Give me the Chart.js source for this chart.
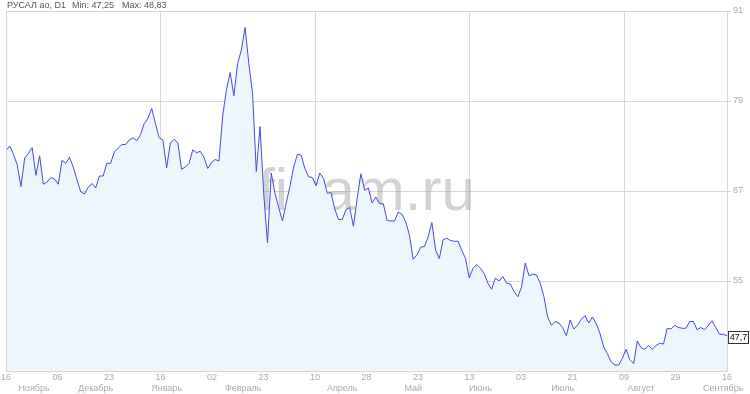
<!DOCTYPE html>
<html>
<head>
<meta charset="utf-8">
<script src="https://cdn.jsdelivr.net/npm/chart.js@4/dist/chart.umd.min.js"></script>
<style>
html,body{margin:0;padding:0;background:#fff;}
#wrap{width:750px;height:394px;position:relative;}
</style>
</head>
<body>
<div id="wrap"><canvas id="c" width="750" height="394"></canvas></div>
<script>
const titleParts = ['РУСАЛ ао, D1', 'Min: 47,25', 'Max: 48,83'];
const dayLabels = ['16','06','23','16','02','23','10','28','23','13','03','21','09','29','16'];
const monthLabels = ['Ноябрь','Декабрь','Январь','Февраль','Апрель','Май','Июнь','Июль','Август','Сентябрь'];
const monthAt = [7.5, 24, 43, 63.5, 90, 109, 127, 149, 170, 192];
const yTicks = [55, 67, 79, 91];
const prices = [
72.4, 73.0, 71.9, 70.5, 67.6, 71.4, 72.0, 72.8, 69.1, 71.7,
67.9, 68.2, 68.8, 68.6, 67.9, 71.1, 70.7, 71.5, 70.2, 68.5,
66.9, 66.6, 67.5, 68.0, 67.4, 69.0, 69.0, 70.7, 70.7, 72.2,
72.7, 73.2, 73.2, 73.8, 74.1, 73.7, 74.5, 76.0, 76.7, 78.0,
76.0, 74.1, 73.8, 70.1, 73.4, 73.9, 73.4, 69.9, 70.2, 70.7,
72.5, 72.1, 72.3, 71.5, 70.0, 70.8, 71.2, 71.0, 77.0, 80.5,
82.8, 79.7, 84.0, 85.8, 88.8, 84.0, 80.0, 69.6, 75.6, 66.5,
60.1, 69.4, 66.7, 64.8, 63.0, 65.4, 67.6, 70.2, 71.9, 71.8,
70.0, 68.9, 68.8, 67.7, 69.4, 68.7, 66.7, 66.8, 64.6, 63.2,
63.2, 64.5, 64.8, 62.3, 66.0, 69.3, 67.1, 67.4, 65.4,
66.2, 65.3, 65.3, 63.1, 63.0, 63.0, 64.2, 63.9, 62.9, 61.1,
57.9, 58.5, 59.5, 59.6, 60.9, 62.8, 59.1, 58.0, 60.5, 60.7,
60.4, 60.3, 60.3, 59.1, 58.0, 55.4, 56.7, 57.2, 56.7, 56.0,
54.7, 53.9, 55.4, 55.0, 55.6, 54.7, 54.6, 53.6, 52.9, 54.2,
57.4, 55.7, 55.9, 55.8, 54.7, 52.9, 50.2, 49.1,
49.6, 49.4, 48.8, 47.7, 49.8, 48.6, 49.1, 49.9, 50.4, 49.4,
50.2, 49.3, 48.0, 46.2, 45.3, 44.2, 43.8, 43.8, 44.7, 45.9,
44.5, 44.0, 47.0, 46.1, 45.9, 46.4, 45.9, 46.4, 46.7, 46.6,
48.7, 48.6, 49.1, 48.8, 48.7, 48.7, 49.6, 49.6, 48.5, 48.8,
48.5, 49.1, 49.7, 48.8, 47.9, 47.9, 47.7
];

const N = prices.length;
const lastIdx = N - 1;
const gridIdx = [3, 6, 9, 12];
const GRID = '#d6d6d6';
const FONT = 'Arial, "Liberation Sans", sans-serif';

const extras = {
  id: 'extras',
  beforeDatasetsDraw(chart) {
    const ctx = chart.ctx, a = chart.chartArea;
    ctx.save();
    ctx.font = '60px ' + FONT;
    ctx.fillStyle = 'rgba(150,150,150,0.42)';
    ctx.textAlign = 'center';
    ctx.textBaseline = 'alphabetic';
    ctx.fillText('finam.ru', (a.left + a.right) / 2, 210);
    ctx.restore();
  },
  afterDatasetsDraw(chart) {
    const ctx = chart.ctx, a = chart.chartArea;
    ctx.save();
    ctx.strokeStyle = GRID;
    ctx.lineWidth = 1;
    ctx.strokeRect(Math.round(a.left) + 0.5, Math.round(a.top) + 0.5,
      Math.round(a.right - a.left), Math.round(a.bottom - a.top));
    // header
    ctx.font = '9px ' + FONT;
    ctx.fillStyle = '#555';
    ctx.textBaseline = 'middle';
    ctx.textAlign = 'left';
    const xs = [7, 72, 122];
    titleParts.forEach((t, i) => ctx.fillText(t, xs[i], 6));
    // last price tag
    const last = prices[lastIdx];
    const y = chart.scales.y.getPixelForValue(last);
    const bx = Math.round(a.right) + 1, by = Math.round(y) - 5;
    ctx.fillStyle = '#fff';
    ctx.fillRect(bx, by, 20, 12);
    ctx.strokeStyle = '#333';
    ctx.strokeRect(bx + 0.5, by + 0.5, 20, 12);
    ctx.fillStyle = '#000';
    ctx.textAlign = 'center';
    ctx.fillText(String(last).replace('.', ','), bx + 10.5, by + 6.5);
    ctx.restore();
  }
};

new Chart(document.getElementById('c'), {
  type: 'line',
  data: {
    datasets: [{
      data: prices.map((v, i) => ({ x: i, y: v })),
      borderColor: 'rgb(72,72,222)',
      borderWidth: 1,
      backgroundColor: '#edf5fd',
      fill: 'start',
      pointRadius: 0,
      tension: 0
    }]
  },
  options: {
    responsive: false,
    animation: false,
    devicePixelRatio: 1,
    layout: { padding: { top: 11, left: 5, right: 0, bottom: 0 } },
    plugins: { legend: { display: false }, tooltip: { enabled: false } },
    scales: {
      x: {
        type: 'linear', position: 'bottom', min: 0, max: lastIdx,
        afterBuildTicks: s => { s.ticks = dayLabels.map((l, k) => ({ value: k * lastIdx / 14 })); },
        afterFit: s => { s.height = 12; },
        ticks: {
          autoSkip: false, maxRotation: 0, padding: 1,
          color: '#aaa', font: { family: FONT, size: 9 },
          callback: (v, i) => dayLabels[i]
        },
        grid: {
          drawTicks: false,
          color: c => gridIdx.includes(c.index) ? GRID : 'rgba(0,0,0,0)'
        },
        border: { display: false }
      },
      x2: {
        type: 'linear', position: 'bottom', min: 0, max: lastIdx,
        afterBuildTicks: s => { s.ticks = monthAt.map(v => ({ value: v })); },
        afterFit: s => { s.height = 11; },
        ticks: {
          autoSkip: false, maxRotation: 0, padding: 0,
          color: '#aaa', font: { family: FONT, size: 9 },
          callback: (v, i) => monthLabels[i]
        },
        grid: { display: false, drawTicks: false },
        border: { display: false }
      },
      y: {
        type: 'linear', position: 'right', min: 43, max: 91,
        afterBuildTicks: s => { s.ticks = yTicks.map(v => ({ value: v })); },
        afterFit: s => { s.width = 23; },
        ticks: {
          padding: 2, color: '#aaa', font: { family: FONT, size: 9 },
          callback: v => String(v)
        },
        grid: { color: GRID, drawTicks: true, tickLength: 4 },
        border: { display: false }
      }
    }
  },
  plugins: [extras]
});
</script>
</body>
</html>
